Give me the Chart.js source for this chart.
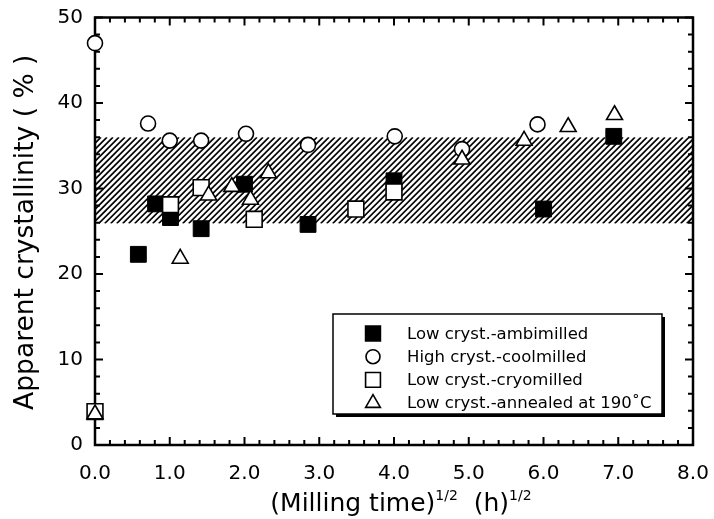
<!DOCTYPE html>
<html>
<head>
<meta charset="utf-8">
<title>Apparent crystallinity vs milling time</title>
<script src="https://cdn.jsdelivr.net/npm/chart.js"></script>
<style>
  body { margin: 0; background: #fff; }
  canvas { display: block; }
</style>
</head>
<body>
<canvas id="crystChart" width="714" height="519"></canvas>
<script>
// values: x = (milling time)^1/2, y = apparent crystallinity (%)
const ambiX = [0.58, 0.81, 1.01, 1.42, 2.0, 2.85, 4.0, 6.0, 6.94]
const ambiY = [22.3, 28.2, 26.6, 25.3, 30.5, 25.8, 30.9, 27.6, 36.1]

const coolX = [0, 0.71, 1.0, 1.42, 2.02, 2.85, 4.01, 4.91, 5.92]
const coolY = [47.0, 37.6, 35.6, 35.6, 36.4, 35.1, 36.1, 34.6, 37.5]

const cryoX = [0, 1.01, 1.42, 2.13, 3.49, 4.0]
const cryoY = [3.9, 28.1, 30.1, 26.4, 27.6, 29.6]

const annX = [0, 1.14, 1.52, 1.83, 2.08, 2.32, 4.91, 5.74, 6.33, 6.95]
const annY = [3.6, 21.8, 29.2, 30.2, 28.7, 31.8, 33.4, 35.6, 37.2, 38.6]

const seriesLabels = [
    "Low cryst.-ambimilled",
    "High cryst.-coolmilled",
    "Low cryst.-cryomilled",
    "Low cryst.-annealed at 190\u02DAC"
]

// hatched band (low / high crystallinity)
const bandRange = [25.9, 36.0]

const xTickLabels = ["0.0", "1.0", "2.0", "3.0", "4.0", "5.0", "6.0", "7.0", "8.0"]
const yTickLabels = ["0", "10", "20", "30", "40", "50"]

const FONT = "'DejaVu Sans', 'Liberation Sans', Arial, sans-serif"

function toPoints(xs, ys) {
    return xs.map((x, i) => ({ x: x, y: ys[i] }))
}

function drawMarker(ctx, style, x, y, r, fill) {
    if (Chart.helpers && Chart.helpers.drawPoint) {
        ctx.save()
        ctx.fillStyle = fill
        ctx.strokeStyle = "#000"
        ctx.lineWidth = 1.6
        Chart.helpers.drawPoint(ctx, { pointStyle: style, radius: r, borderWidth: 1.6, rotation: 0 }, x, y)
        ctx.restore()
    }
}

// fixed axis box sizes, no extra label padding
function fixScale(size) {
    return s => {
        if (s.isHorizontal()) s.height = size
        else s.width = size
        s.paddingTop = 0
        s.paddingBottom = 0
        s.paddingLeft = 0
        s.paddingRight = 0
    }
}

// hatch band + frame with inside ticks
const framePlugin = {
    id: "frame",
    beforeDatasetsDraw(chart) {
        const ctx = chart.ctx
        const a = chart.chartArea
        const xs = chart.scales.x
        const ys = chart.scales.y

        // hatched band
        const top = ys.getPixelForValue(bandRange[1])
        const bot = ys.getPixelForValue(bandRange[0])
        const h = bot - top
        ctx.save()
        ctx.beginPath()
        ctx.rect(a.left, top, a.right - a.left, h)
        ctx.clip()
        ctx.strokeStyle = "#000"
        ctx.lineWidth = 1.7
        for (let k = a.left - h; k < a.right + 6; k += 6) {
            ctx.beginPath()
            ctx.moveTo(k, bot)
            ctx.lineTo(k + h, top)
            ctx.stroke()
        }
        ctx.restore()

        // ticks
        ctx.save()
        ctx.strokeStyle = "#000"
        ctx.lineWidth = 2
        ctx.beginPath()
        for (let v = 0; v <= 8.001; v += 0.2) {
            const px = xs.getPixelForValue(v)
            const len = Math.abs(v - Math.round(v)) < 0.01 ? 8 : 5
            ctx.moveTo(px, a.bottom)
            ctx.lineTo(px, a.bottom - len)
            ctx.moveTo(px, a.top)
            ctx.lineTo(px, a.top + len)
        }
        for (let v = 0; v <= 50; v += 2) {
            const py = ys.getPixelForValue(v)
            const len = v % 10 === 0 ? 8 : 5
            ctx.moveTo(a.left, py)
            ctx.lineTo(a.left + len, py)
            ctx.moveTo(a.right, py)
            ctx.lineTo(a.right - len, py)
        }
        ctx.stroke()

        // frame
        ctx.lineWidth = 2.5
        ctx.strokeRect(a.left, a.top, a.right - a.left, a.bottom - a.top)
        ctx.restore()
    },
    afterDraw(chart) {
        const ctx = chart.ctx
        const a = chart.chartArea

        // legend box with drop shadow
        const bx = 333, by = 314, bw = 329, bh = 100
        ctx.save()
        ctx.fillStyle = "#000"
        ctx.fillRect(bx + 3, by + 3, bw, bh)
        ctx.fillStyle = "#fff"
        ctx.fillRect(bx, by, bw, bh)
        ctx.strokeStyle = "#000"
        ctx.lineWidth = 1.5
        ctx.strokeRect(bx, by, bw, bh)

        ctx.font = "16.5px " + FONT
        ctx.fillStyle = "#000"
        ctx.textBaseline = "middle"
        ctx.textAlign = "left"
        chart.data.datasets.forEach((ds, i) => {
            const yy = 333.5 + i * 23.2
            drawMarker(ctx, ds.pointStyle, 373, yy, ds.legendRadius, ds.backgroundColor)
            ctx.fillStyle = "#000"
            ctx.fillText(ds.label, 407, yy + 1)
        })

        // y title
        ctx.save()
        ctx.translate(26, (a.top + a.bottom) / 2 + 1)
        ctx.rotate(-Math.PI / 2)
        ctx.font = "26.5px " + FONT
        ctx.textAlign = "center"
        ctx.textBaseline = "middle"
        ctx.fillText("Apparent crystallinity ( % )", 0, 0)
        ctx.restore()

        // x title with superscripts
        const parts = [
            { t: "(Milling time)", s: 25, dy: 0 },
            { t: "1/2", s: 14, dy: -11 },
            { t: "  (h)", s: 25, dy: 0 },
            { t: "1/2", s: 14, dy: -11 }
        ]
        let total = 0
        parts.forEach(p => {
            ctx.font = p.s + "px " + FONT
            p.w = ctx.measureText(p.t).width
            total += p.w
        })
        let cx = 401 - total / 2
        ctx.textAlign = "left"
        ctx.textBaseline = "alphabetic"
        parts.forEach(p => {
            ctx.font = p.s + "px " + FONT
            ctx.fillText(p.t, cx, 511 + p.dy)
            cx += p.w
        })
        ctx.restore()
    }
}

const chart = new Chart(document.getElementById("crystChart"), {
    type: "scatter",
    data: {
        datasets: [
            {
                label: seriesLabels[0],
                data: toPoints(ambiX, ambiY),
                pointStyle: "rect",
                pointRadius: 11.2,
                legendRadius: 10.5,
                backgroundColor: "#000",
                borderColor: "#000",
                borderWidth: 1,
                order: 4
            },
            {
                label: seriesLabels[1],
                data: toPoints(coolX, coolY),
                pointStyle: "circle",
                pointRadius: 7.5,
                legendRadius: 7,
                backgroundColor: "#fff",
                borderColor: "#000",
                borderWidth: 1.6,
                order: 3
            },
            {
                label: seriesLabels[2],
                data: toPoints(cryoX, cryoY),
                pointStyle: "rect",
                pointRadius: 11.2,
                legendRadius: 10.5,
                backgroundColor: "#fff",
                borderColor: "#000",
                borderWidth: 1.6,
                order: 2
            },
            {
                label: seriesLabels[3],
                data: toPoints(annX, annY),
                pointStyle: "triangle",
                pointRadius: 9.2,
                legendRadius: 8.5,
                backgroundColor: "#fff",
                borderColor: "#000",
                borderWidth: 1.6,
                order: 1
            }
        ]
    },
    options: {
        responsive: false,
        animation: false,
        clip: false,
        layout: { autoPadding: false, padding: { left: 0, right: 21, top: 17.5, bottom: 0 } },
        plugins: {
            legend: { display: false },
            tooltip: { enabled: false }
        },
        scales: {
            x: {
                type: "linear",
                min: 0,
                max: 8,
                border: { display: false },
                grid: { display: false, drawTicks: false },
                ticks: {
                    stepSize: 1,
                    padding: 17,
                    color: "#000",
                    font: { family: FONT, size: 20 },
                    callback: (v, i) => xTickLabels[i]
                },
                afterFit: fixScale(74)
            },
            y: {
                type: "linear",
                min: 0,
                max: 50,
                border: { display: false },
                grid: { display: false, drawTicks: false },
                ticks: {
                    stepSize: 10,
                    padding: 12,
                    color: "#000",
                    font: { family: FONT, size: 20 },
                    callback: (v, i) => yTickLabels[i]
                },
                afterFit: fixScale(95)
            }
        }
    },
    plugins: [framePlugin]
})
</script>
</body>
</html>
